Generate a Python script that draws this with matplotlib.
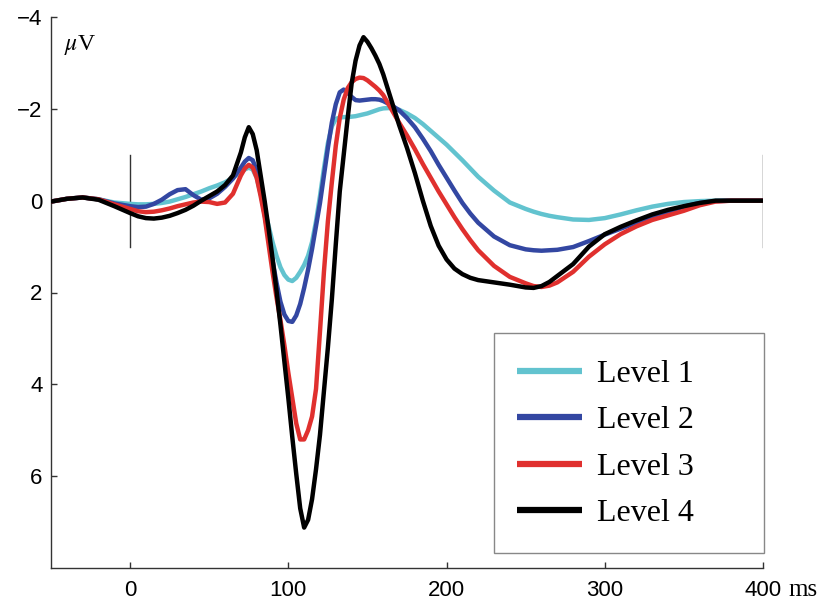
import matplotlib
matplotlib.use("Agg")
import matplotlib.pyplot as plt
from matplotlib.patches import Rectangle

# time axis (ms) and the four averaged waveforms (uV, negative up)
time_ms = [-50, -40, -30, -20, -10, 0, 5, 10, 15, 20, 25, 30, 35, 40, 45, 50,
           55, 60, 65,
           70, 72.5, 75, 77.5, 80, 82.5, 85, 87.5, 90, 92.5, 95, 97.5, 100,
           102.5, 105, 107.5, 110, 112.5, 115, 117.5, 120, 122.5, 125, 127.5,
           130, 132.5, 135, 137.5, 140, 142.5, 145, 147.5, 150, 152.5, 155,
           157.5, 160,
           165, 170, 175, 180, 185, 190, 195, 200, 205, 210, 215, 220, 230,
           240, 250, 255, 260, 265, 270, 280, 290, 300, 310, 320, 330, 340,
           350, 360, 370, 380, 400]

level1 = [0.02, -0.04, -0.07, -0.03, 0.04, 0.07, 0.08, 0.08, 0.07, 0.05, 0.02,
          -0.03, -0.08, -0.14, -0.20, -0.27, -0.33, -0.40, -0.50,
          -0.62, -0.68, -0.72, -0.68, -0.50, -0.15, 0.20, 0.55, 0.90, 1.20,
          1.45, 1.62, 1.72, 1.75, 1.68, 1.55, 1.40, 1.20, 0.90, 0.45, -0.10,
          -0.70, -1.25, -1.62, -1.78, -1.81, -1.82, -1.82, -1.83, -1.84, -1.86,
          -1.88, -1.90, -1.93, -1.96, -1.99, -2.01,
          -2.02, -1.98, -1.90, -1.80, -1.67, -1.52, -1.37, -1.22, -1.05, -0.88,
          -0.70, -0.52, -0.22, 0.04, 0.18, 0.24, 0.29, 0.33, 0.36, 0.41, 0.42,
          0.38, 0.30, 0.21, 0.13, 0.07, 0.03, 0.01, 0.0, 0.0, 0.0]

level2 = [0.02, -0.04, -0.07, -0.03, 0.06, 0.12, 0.14, 0.13, 0.07, -0.02, -0.14,
          -0.23, -0.25, -0.12, -0.02, -0.05, -0.15, -0.30, -0.48,
          -0.72, -0.85, -0.93, -0.88, -0.65, -0.20, 0.30, 0.80, 1.30, 1.78,
          2.20, 2.48, 2.62, 2.64, 2.50, 2.25, 1.90, 1.50, 1.05, 0.55, 0.05,
          -0.55, -1.15, -1.70, -2.10, -2.36, -2.42, -2.35, -2.26, -2.19, -2.18,
          -2.19, -2.20, -2.21, -2.21, -2.20, -2.17,
          -2.08, -1.97, -1.80, -1.60, -1.35, -1.08, -0.78, -0.50, -0.22, 0.05,
          0.28, 0.48, 0.78, 0.97, 1.06, 1.08, 1.09, 1.08, 1.07, 1.01, 0.88,
          0.74, 0.61, 0.48, 0.36, 0.24, 0.13, 0.05, 0.01, 0.0, 0.0]

level3 = [0.02, -0.04, -0.07, -0.03, 0.08, 0.18, 0.23, 0.25, 0.24, 0.21, 0.17,
          0.12, 0.08, 0.04, 0.02, 0.03, 0.07, 0.04, -0.15,
          -0.55, -0.70, -0.78, -0.72, -0.50, -0.10, 0.35, 0.95, 1.55, 2.10,
          2.60, 3.15, 3.75, 4.30, 4.85, 5.20, 5.20, 5.00, 4.70, 4.10, 2.85,
          1.55, 0.45, -0.40, -1.20, -1.80, -2.20, -2.45, -2.58, -2.65, -2.68,
          -2.67, -2.62, -2.55, -2.48, -2.40, -2.30,
          -2.00, -1.70, -1.42, -1.12, -0.80, -0.50, -0.20, 0.08, 0.36, 0.62,
          0.86, 1.08, 1.42, 1.66, 1.80, 1.86, 1.88, 1.85, 1.78, 1.55, 1.22,
          0.95, 0.73, 0.56, 0.42, 0.32, 0.22, 0.10, 0.02, 0.0, 0.0]

level4 = [0.02, -0.04, -0.07, -0.02, 0.12, 0.27, 0.34, 0.38, 0.39, 0.37, 0.33,
          0.27, 0.20, 0.11, 0.0, -0.10, -0.20, -0.34, -0.55,
          -1.05, -1.38, -1.60, -1.45, -1.10, -0.55, 0.00, 0.60, 1.25, 1.95,
          2.70, 3.50, 4.30, 5.15, 5.95, 6.70, 7.12, 6.95, 6.50, 5.85, 5.10,
          4.15, 3.20, 2.15, 0.95, -0.20, -1.00, -1.80, -2.55, -3.05, -3.38,
          -3.56, -3.46, -3.32, -3.16, -2.98, -2.75,
          -2.20, -1.65, -1.15, -0.60, 0.00, 0.55, 0.98, 1.28, 1.48, 1.60,
          1.68, 1.73, 1.78, 1.83, 1.89, 1.90, 1.86, 1.77, 1.64, 1.38, 1.00,
          0.73, 0.57, 0.43, 0.30, 0.20, 0.12, 0.05, 0.0, 0.0, 0.0]

labels = ["Level 1", "Level 2", "Level 3", "Level 4"]
colors = ["#62c3cf", "#3347a2", "#e0302e", "#000000"]

x_ticks = [0, 100, 200, 300, 400]
y_ticks = [-4, -2, 0, 2, 4, 6]

plt.rcParams["mathtext.fontset"] = "stix"

fig = plt.figure(figsize=(8.39, 6.09), dpi=100)
ax = fig.add_axes([51 / 839, 1 - 568 / 609, 712 / 839, 551 / 609])

for series, lab, col in zip([level1, level2, level3, level4], labels, colors):
    ax.plot(time_ms, series, color=col, lw=3.2, label=lab,
            solid_capstyle="round", solid_joinstyle="round", zorder=3)

# stimulus / epoch end markers
for xm in (0, 400):
    ax.plot([xm, xm], [-1, 1], color="#333333", lw=1.0, zorder=2)

ax.set_xlim(-50, 400)
ax.set_ylim(8, -4)
ax.set_xticks(x_ticks)
ax.set_yticks(y_ticks)

for side in ("top", "right"):
    ax.spines[side].set_visible(False)
for side in ("left", "bottom"):
    ax.spines[side].set_color("#333333")
    ax.spines[side].set_linewidth(1.0)

ax.tick_params(direction="in", length=4, width=1, color="#333333",
               labelsize=16)
ax.tick_params(axis="x", pad=9)
ax.tick_params(axis="y", pad=6)
for lbl in ax.get_xticklabels() + ax.get_yticklabels():
    lbl.set_fontfamily("Liberation Sans")

ax.text(-42, -3.38, r"$\mu$V", fontsize=17, family="Liberation Serif",
        ha="left", va="center")
ax.annotate("ms", xy=(400, 0), xycoords=("data", "axes fraction"),
            xytext=(18, -16), textcoords="offset points",
            fontsize=18, family="Liberation Serif", ha="left", va="center",
            annotation_clip=False)

leg = ax.legend(loc="upper left", bbox_to_anchor=(0.6166, 0.4265),
                frameon=False, borderaxespad=0, borderpad=0.84,
                handlelength=2.04, handletextpad=0.47, labelspacing=0.53,
                prop={"family": "Liberation Serif", "size": 23})
for h in leg.get_lines():
    h.set_linewidth(4.5)
    h.set_solid_capstyle("butt")

ax.add_patch(Rectangle((0.622, 0.027), 0.379, 0.399, transform=ax.transAxes,
                       fill=False, edgecolor="#888888", lw=1.0,
                       clip_on=False, zorder=4))

fig.savefig("out.png", dpi=100)
